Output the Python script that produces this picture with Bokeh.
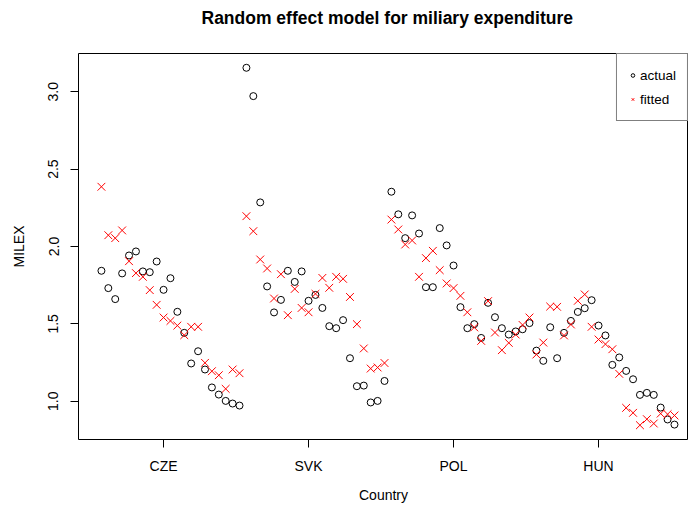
from bokeh.plotting import figure
from bokeh.models import Range1d, FixedTicker, PrintfTickFormatter, ColumnDataSource
from bokeh.embed import file_html
from bokeh.resources import INLINE

countries = ["CZE", "SVK", "POL", "HUN"]
country_ticks = [10, 31, 52, 73]

actual_cze = [1.843, 1.731, 1.660, 1.826, 1.942, 1.968, 1.839, 1.834, 1.903, 1.720, 1.795,
              1.578, 1.442, 1.244, 1.323, 1.205, 1.089, 1.043, 1.002, 0.985, 0.972]
actual_svk = [3.155, 2.972, 2.285, 1.742, 1.574, 1.655, 1.843, 1.771, 1.839, 1.649, 1.687,
              1.603, 1.485, 1.472, 1.524, 1.278, 1.097, 1.101, 0.992, 1.002, 1.131]
actual_pol = [2.354, 2.208, 2.054, 2.201, 2.084, 1.737, 1.737, 2.119, 2.007, 1.877, 1.608,
              1.472, 1.498, 1.409, 1.636, 1.543, 1.472, 1.431, 1.451, 1.465, 1.505]
actual_hun = [1.327, 1.261, 1.478, 1.278, 1.442, 1.519, 1.577, 1.601, 1.653, 1.489, 1.425,
              1.235, 1.283, 1.196, 1.142, 1.041, 1.054, 1.041, 0.959, 0.882, 0.849]

fitted_cze = [2.386, 2.073, 2.054, 2.104, 1.905, 1.828, 1.804, 1.718, 1.623, 1.541, 1.519,
              1.489, 1.427, 1.481, 1.481, 1.248, 1.194, 1.168, 1.080, 1.205, 1.181]
fitted_svk = [2.196, 2.099, 1.916, 1.858, 1.664, 1.821, 1.556, 1.726, 1.603, 1.575, 1.694,
              1.797, 1.733, 1.804, 1.791, 1.674, 1.498, 1.341, 1.211, 1.218, 1.247]
fitted_pol = [2.174, 2.110, 2.013, 2.039, 1.804, 1.925, 1.972, 1.847, 1.761, 1.731, 1.681,
              1.575, 1.477, 1.390, 1.647, 1.444, 1.330, 1.377, 1.431, 1.493, 1.541]
fitted_hun = [1.302, 1.379, 1.612, 1.610, 1.425, 1.496, 1.649, 1.690, 1.481, 1.399, 1.369,
              1.336, 1.177, 0.957, 0.925, 0.845, 0.884, 0.856, 0.920, 0.916, 0.908]

actual = actual_cze + actual_svk + actual_pol + actual_hun
fitted = fitted_cze + fitted_svk + fitted_pol + fitted_hun
index = list(range(1, len(actual) + 1))

src = ColumnDataSource(dict(x=index, actual=actual, fitted=fitted))

FONT = "Liberation Sans"
TITLE = "Random effect model for miliary expenditure"

p = figure(width=688, height=506, output_backend="svg", toolbar_location=None,
           x_range=Range1d(-2.32, 86.03), y_range=Range1d(0.7526, 3.2474),
           min_border_left=78, min_border_right=0, min_border_top=53, min_border_bottom=67,
           title=TITLE + "\n", x_axis_label="Country", y_axis_label="MILEX")

p.title.align = "left"
p.title.offset = 123
p.title.vertical_align = "top"
p.title.standoff = 8
p.title.text_font = FONT
p.title.text_font_size = "17.5px"
p.title.text_font_style = "bold"
p.title.text_color = "black"

p.xgrid.visible = False
p.ygrid.visible = False
p.outline_line_color = "black"
p.outline_line_width = 1
p.background_fill_color = "white"
p.border_fill_color = "white"

for ax in (p.xaxis[0], p.yaxis[0]):
    ax.axis_line_color = None
    ax.major_tick_line_color = "black"
    ax.major_tick_in = 0
    ax.major_tick_out = 8
    ax.minor_tick_line_color = None
    ax.major_label_text_font = FONT
    ax.major_label_text_font_size = "14px"
    ax.major_label_text_color = "black"
    ax.axis_label_text_font = FONT
    ax.axis_label_text_font_size = "14px"
    ax.axis_label_text_font_style = "normal"
    ax.axis_label_text_color = "black"

p.xaxis.ticker = FixedTicker(ticks=country_ticks)
p.xaxis.major_label_overrides = {t: c for t, c in zip(country_ticks, countries)}
p.xaxis.major_label_standoff = 10
p.xaxis.axis_label_standoff = 10

p.yaxis.ticker = FixedTicker(ticks=[1.0, 1.5, 2.0, 2.5, 3.0])
p.yaxis.formatter = PrintfTickFormatter(format="%.1f")
p.yaxis.major_label_orientation = "vertical"
p.yaxis.major_label_standoff = 12
p.yaxis.axis_label_standoff = 19

p.scatter("x", "actual", source=src, marker="circle", size=7, fill_color=None,
          line_color="black", line_width=1, legend_label="actual")
p.scatter("x", "fitted", source=src, marker="x", size=11,
          line_color="red", line_width=1, legend_label="fitted")

lg = p.legend[0]
lg.location = "top_right"
lg.margin = 0
lg.padding = 11
lg.spacing = 4
lg.label_height = 20
lg.glyph_height = 20
lg.glyph_width = 9
lg.label_standoff = 3
lg.border_line_color = "black"
lg.border_line_width = 1
lg.background_fill_color = "white"
lg.background_fill_alpha = 1
lg.label_text_font = FONT
lg.label_text_font_size = "13.5px"
lg.label_text_color = "black"

open("out.html", "w").write(file_html(p, INLINE))
